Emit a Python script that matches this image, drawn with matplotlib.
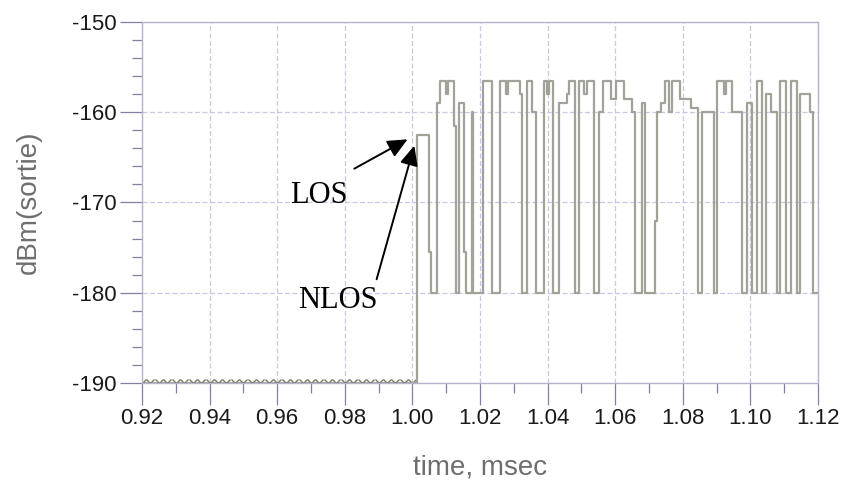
import numpy as np
import matplotlib.pyplot as plt
from matplotlib.ticker import MultipleLocator

plt.rcParams['axes.unicode_minus'] = False
plt.rcParams['font.family'] = ['Liberation Sans', 'DejaVu Sans']

# Signal before arrival: flat at -190 dBm, sampled points shown as markers
t_pre = np.arange(0.92, 1.0001, 0.0025)
p_pre = np.full(len(t_pre), -190.0)

# Received signal after 1.00 msec (step changes: time, level held after)
t_sig = [1.0000, 1.0015, 1.0050, 1.0056, 1.0074, 1.0083, 1.0098, 1.0104,
         1.0124, 1.0130, 1.0139, 1.0154, 1.0160, 1.0175, 1.0180, 1.0210,
         1.0237, 1.0260, 1.0278, 1.0284, 1.0317, 1.0325, 1.0340, 1.0355,
         1.0367, 1.0388, 1.0399, 1.0405, 1.0417, 1.0435, 1.0456, 1.0464,
         1.0482, 1.0494, 1.0509, 1.0518, 1.0538, 1.0553, 1.0565, 1.0589,
         1.0601, 1.0627, 1.0651, 1.0660, 1.0680, 1.0689, 1.0719, 1.0725,
         1.0737, 1.0746, 1.0760, 1.0769, 1.0793, 1.0825, 1.0846, 1.0858,
         1.0891, 1.0902, 1.0923, 1.0929, 1.0947, 1.0976, 1.0991, 1.1006,
         1.1021, 1.1033, 1.1047, 1.1062, 1.1080, 1.1089, 1.1104, 1.1121,
         1.1139, 1.1148, 1.1175, 1.1186, 1.1198]
p_sig = [-190, -162.5, -175.5, -180, -159, -156.5, -158, -156.5,
         -161.5, -180, -159, -175.5, -180, -160, -180, -156.5,
         -180, -156.5, -158, -156.5, -158, -180, -156.5, -160,
         -180, -156.5, -158, -156.5, -180, -159, -158, -156.5,
         -180, -156.5, -158, -156.5, -180, -160, -156.5, -158.5,
         -156.5, -158.5, -160, -180, -159, -180, -172, -160,
         -159, -156.5, -160, -156.5, -158.5, -159.5, -180, -160,
         -180, -156.5, -158, -156.5, -160, -180, -159, -180,
         -156.5, -180, -158, -160, -180, -156.5, -180, -156.5,
         -180, -158, -160, -180, -180]

line_col = '#a2a298'
grid_col = '#c8c8e6'

fig = plt.figure(figsize=(8.46, 4.93), dpi=100)
ax = fig.add_axes([0.1678, 0.2231, 0.7991, 0.7323])

ax.plot(t_pre, p_pre, color=line_col, lw=1.3, marker='x', markersize=6,
        markeredgewidth=1.0, markeredgecolor='#7a7a62')
ax.plot(t_sig, p_sig, color=line_col, lw=1.6, drawstyle='steps-post')

ax.set_xlim(0.92, 1.12)
ax.set_ylim(-190, -150)
ax.xaxis.set_major_locator(MultipleLocator(0.02))
ax.xaxis.set_minor_locator(MultipleLocator(0.01))
ax.yaxis.set_major_locator(MultipleLocator(10))
ax.yaxis.set_minor_locator(MultipleLocator(2))
ax.set_xticklabels([f'{v:.2f}' for v in ax.get_xticks()])

ax.grid(True, which='major', color=grid_col, lw=0.9, linestyle=(0, (4, 2)))
ax.tick_params(which='major', length=16, width=0.9, color='#8080a0',
               labelsize=16, labelcolor='#1a1a1a', pad=2)
ax.tick_params(which='minor', length=7, width=0.9, color='#8080a0')
for s in ax.spines.values():
    s.set_color('#b4b4cc')
    s.set_linewidth(1.0)

ax.set_xlabel('time, msec', fontsize=20, color='#6e6e6e', labelpad=18)
ax.set_ylabel('dBm(sortie)', fontsize=20, color='#6e6e6e', labelpad=22)

# Annotations
head = '-|>,head_length=1.2,head_width=0.55'
ax.annotate('', xy=(0.9993, -162.85), xytext=(0.9821, -166.4),
            arrowprops=dict(arrowstyle=head, color='black', lw=1.4))
ax.annotate('', xy=(1.0008, -163.4), xytext=(0.9892, -178.8),
            arrowprops=dict(arrowstyle=head, color='black', lw=1.4))
ax.text(0.9638, -170.1, 'LOS', family='Liberation Serif', fontsize=22,
        va='baseline', ha='left')
ax.text(0.9662, -181.7, 'NLOS', family='Liberation Serif', fontsize=22,
        va='baseline', ha='left')

fig.savefig('out.png', dpi=100)
